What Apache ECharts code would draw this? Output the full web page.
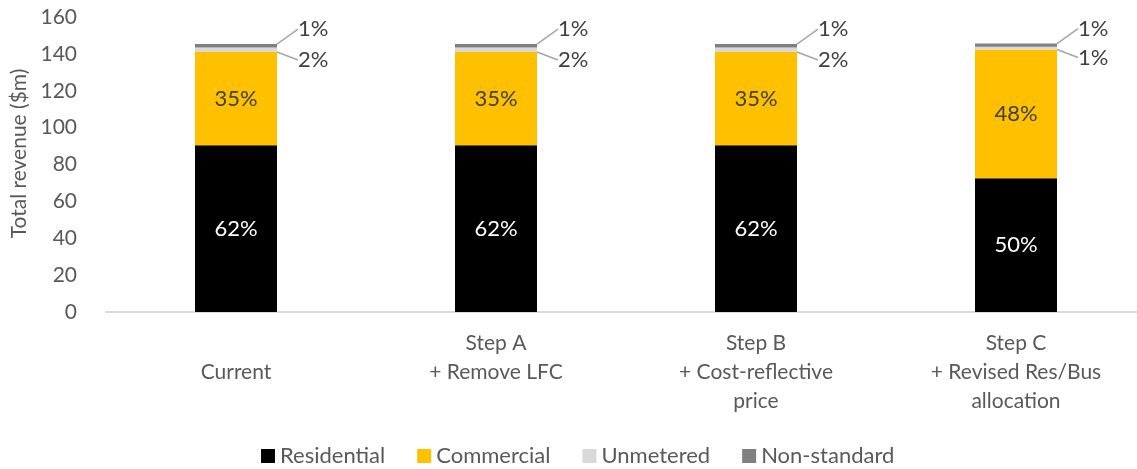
<!DOCTYPE html>
<html>
<head>
<meta charset="utf-8">
<script src="https://cdn.jsdelivr.net/npm/echarts@6/dist/echarts.min.js"></script>
<style>
    html, body { margin: 0; padding: 0; background: #fff; }
    #charts { width: 1137px; height: 469px; }
</style>
</head>
<body>
<div id="charts"></div>
<script>
var category = [
    "\nCurrent",
    "Step A\n+ Remove LFC",
    "Step B\n+ Cost-reflective\nprice",
    "Step C\n+ Revised Res/Bus\nallocation",
];
var residential = [90.5, 90.5, 90.5, 72.5];
var commercial = [50.5, 50.5, 50.5, 69.9];
var unmetered = [2.5, 2.5, 2.5, 1.4];
var nonStandard = [1.8, 1.8, 1.8, 1.8];
var yTicks = [0, 20, 40, 60, 80, 100, 120, 140, 160];

var totals = [];
for (var i = 0; i < category.length; i++) {
    totals[i] = residential[i] + commercial[i] + unmetered[i] + nonStandard[i];
}
function pct(p) {
    return Math.round(p.value / totals[p.dataIndex] * 100) + "%";
}

var font = "Lato";
var textColor = "#595959";

const charts = echarts.init(document.getElementById('charts'));

let option = {
    animation: false,
    textStyle: { fontFamily: font },
    grid: {
        left: 106,
        top: 17,
        bottom: 157,
        width: 1040,
        outerBoundsMode: "none",
    },
    legend: {
        data: ["Residential", "Commercial", "Unmetered", "Non-standard"],
        left: 256,
        top: 440,
        icon: "rect",
        itemWidth: 14,
        itemHeight: 14,
        itemGap: 32,
        textStyle: {
            color: textColor,
            fontSize: 22,
            fontFamily: font,
        },
    },
    xAxis: {
        type: "category",
        data: category,
        axisLine: {
            lineStyle: { color: "#d9d9d9", width: 2 },
        },
        axisTick: { show: false },
        axisLabel: {
            color: textColor,
            fontSize: 21,
            lineHeight: 29,
            margin: 17,
            verticalAlign: "top",
            fontFamily: font,
        },
    },
    yAxis: {
        type: "value",
        min: yTicks[0],
        max: yTicks[yTicks.length - 1],
        interval: 20,
        name: "Total revenue ($m)",
        nameLocation: "middle",
        nameGap: 74,
        nameTextStyle: {
            color: textColor,
            fontSize: 21,
            fontFamily: font,
            padding: [0, 0, 0, 22],
        },
        splitLine: { show: false },
        axisLine: { show: false },
        axisTick: { show: false },
        axisLabel: {
            color: textColor,
            fontSize: 21,
            margin: 29,
            fontFamily: font,
        },
    },
    series: [
        {
            name: "Residential",
            type: "bar",
            stack: "total",
            barWidth: 82,
            itemStyle: { color: "#000000" },
            label: {
                show: true,
                position: "inside",
                color: "#ffffff",
                fontSize: 22,
                fontFamily: font,
                formatter: pct,
            },
            data: residential,
        },
        {
            name: "Commercial",
            type: "bar",
            stack: "total",
            itemStyle: { color: "#ffc000" },
            label: {
                show: true,
                position: "inside",
                color: "#404040",
                fontSize: 22,
                fontFamily: font,
                formatter: pct,
            },
            data: commercial,
        },
        {
            name: "Unmetered",
            type: "bar",
            stack: "total",
            itemStyle: { color: "#d9d9d9" },
            label: {
                show: true,
                position: "right",
                color: "#404040",
                fontSize: 22,
                fontFamily: font,
                formatter: pct,
            },
            labelLayout: function (p) {
                return {
                    x: p.rect.x + p.rect.width + 21,
                    y: p.rect.y + p.rect.height + 8,
                    align: "left",
                    verticalAlign: "middle",
                };
            },
            labelLine: {
                show: true,
                lineStyle: { color: "#a6a6a6", width: 1.5 },
            },
            data: unmetered,
        },
        {
            name: "Non-standard",
            type: "bar",
            stack: "total",
            itemStyle: { color: "#808080" },
            label: {
                show: true,
                position: "right",
                color: "#404040",
                fontSize: 22,
                fontFamily: font,
                formatter: pct,
            },
            labelLayout: function (p) {
                return {
                    x: p.rect.x + p.rect.width + 21,
                    y: p.rect.y - 15,
                    align: "left",
                    verticalAlign: "middle",
                };
            },
            labelLine: {
                show: true,
                lineStyle: { color: "#a6a6a6", width: 1.5 },
            },
            data: nonStandard,
        },
    ],
};

charts.setOption(option);
</script>
</body>
</html>
